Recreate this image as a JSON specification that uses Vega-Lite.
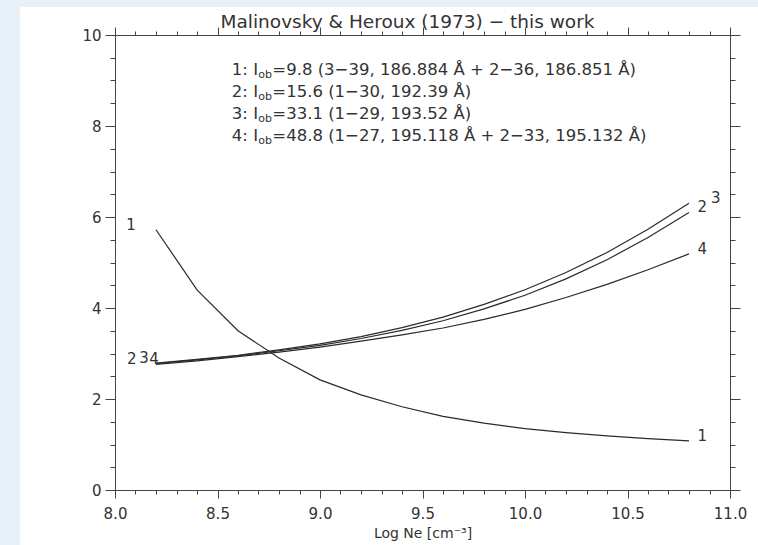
{
  "$schema": "https://vega.github.io/schema/vega-lite/v6.json",
  "width": 615,
  "height": 455,
  "padding": {"left": 20, "top": 7, "right": 0, "bottom": 0},
  "background": "#e8f1f8",
  "config": {
    "view": {"stroke": null},
    "axis": {
      "zindex": 1,
      "grid": false,
      "domainColor": "#444",
      "tickColor": "#444",
      "domainWidth": 1,
      "tickWidth": 1,
      "labelColor": "#333",
      "labelFont": "DejaVu Sans",
      "labelFontSize": 15,
      "labelOverlap": false,
      "labelFlush": false,
      "labelBound": false,
      "titleFont": "DejaVu Sans",
      "titleColor": "#333",
      "titleFontWeight": "normal"
    }
  },
  "datasets": {
    "curves": [
      {"curve": "1", "logne": 8.2, "value": 5.72},
      {"curve": "1", "logne": 8.4, "value": 4.40},
      {"curve": "1", "logne": 8.6, "value": 3.50},
      {"curve": "1", "logne": 8.8, "value": 2.90},
      {"curve": "1", "logne": 9.0, "value": 2.42},
      {"curve": "1", "logne": 9.2, "value": 2.09},
      {"curve": "1", "logne": 9.4, "value": 1.83},
      {"curve": "1", "logne": 9.6, "value": 1.62},
      {"curve": "1", "logne": 9.8, "value": 1.47},
      {"curve": "1", "logne": 10.0, "value": 1.35},
      {"curve": "1", "logne": 10.2, "value": 1.26},
      {"curve": "1", "logne": 10.4, "value": 1.19},
      {"curve": "1", "logne": 10.6, "value": 1.13},
      {"curve": "1", "logne": 10.8, "value": 1.08},
      {"curve": "2", "logne": 8.2, "value": 2.78},
      {"curve": "2", "logne": 8.4, "value": 2.86},
      {"curve": "2", "logne": 8.6, "value": 2.95},
      {"curve": "2", "logne": 8.8, "value": 3.06},
      {"curve": "2", "logne": 9.0, "value": 3.18},
      {"curve": "2", "logne": 9.2, "value": 3.33},
      {"curve": "2", "logne": 9.4, "value": 3.51},
      {"curve": "2", "logne": 9.6, "value": 3.72},
      {"curve": "2", "logne": 9.8, "value": 3.98},
      {"curve": "2", "logne": 10.0, "value": 4.28},
      {"curve": "2", "logne": 10.2, "value": 4.64},
      {"curve": "2", "logne": 10.4, "value": 5.06},
      {"curve": "2", "logne": 10.6, "value": 5.55},
      {"curve": "2", "logne": 10.8, "value": 6.10},
      {"curve": "3", "logne": 8.2, "value": 2.79},
      {"curve": "3", "logne": 8.4, "value": 2.87},
      {"curve": "3", "logne": 8.6, "value": 2.96},
      {"curve": "3", "logne": 8.8, "value": 3.08},
      {"curve": "3", "logne": 9.0, "value": 3.21},
      {"curve": "3", "logne": 9.2, "value": 3.37},
      {"curve": "3", "logne": 9.4, "value": 3.57},
      {"curve": "3", "logne": 9.6, "value": 3.80},
      {"curve": "3", "logne": 9.8, "value": 4.08},
      {"curve": "3", "logne": 10.0, "value": 4.40},
      {"curve": "3", "logne": 10.2, "value": 4.78},
      {"curve": "3", "logne": 10.4, "value": 5.22},
      {"curve": "3", "logne": 10.6, "value": 5.73},
      {"curve": "3", "logne": 10.8, "value": 6.30},
      {"curve": "4", "logne": 8.2, "value": 2.76},
      {"curve": "4", "logne": 8.4, "value": 2.84},
      {"curve": "4", "logne": 8.6, "value": 2.93},
      {"curve": "4", "logne": 8.8, "value": 3.03},
      {"curve": "4", "logne": 9.0, "value": 3.14},
      {"curve": "4", "logne": 9.2, "value": 3.27},
      {"curve": "4", "logne": 9.4, "value": 3.41},
      {"curve": "4", "logne": 9.6, "value": 3.56},
      {"curve": "4", "logne": 9.8, "value": 3.75},
      {"curve": "4", "logne": 10.0, "value": 3.97},
      {"curve": "4", "logne": 10.2, "value": 4.23},
      {"curve": "4", "logne": 10.4, "value": 4.52},
      {"curve": "4", "logne": 10.6, "value": 4.84},
      {"curve": "4", "logne": 10.8, "value": 5.19}
    ],
    "labels": [
      {"label": "1", "logne": 8.078, "value": 5.82},
      {"label": "2", "logne": 8.082, "value": 2.88},
      {"label": "3", "logne": 8.142, "value": 2.90},
      {"label": "4", "logne": 8.19, "value": 2.88},
      {"label": "2", "logne": 10.865, "value": 6.22},
      {"label": "3", "logne": 10.93, "value": 6.42},
      {"label": "4", "logne": 10.865, "value": 5.30},
      {"label": "1", "logne": 10.865, "value": 1.19}
    ],
    "ann": [
      {"pre": "1: I", "post": "=9.8 (3−39, 186.884 Å + 2−36, 186.851 Å)", "logne": 8.57, "value": 9.23},
      {"pre": "2: I", "post": "=15.6 (1−30, 192.39 Å)", "logne": 8.57, "value": 8.75},
      {"pre": "3: I", "post": "=33.1 (1−29, 193.52 Å)", "logne": 8.57, "value": 8.27},
      {"pre": "4: I", "post": "=48.8 (1−27, 195.118 Å + 2−33, 195.132 Å)", "logne": 8.57, "value": 7.79}
    ]
  },
  "layer": [
    {
      "data": {"values": [{}]},
      "mark": {"type": "rect", "fill": "white", "stroke": null, "clip": false},
      "encoding": {
        "x": {
          "datum": 7.53659, "type": "quantitative",
          "scale": {"domain": [8, 11], "nice": false, "zero": false},
          "axis": {
            "orient": "top",
            "zindex": 2,
            "values": [8,8.1,8.2,8.3,8.4,8.5,8.6,8.7,8.8,8.9,9,9.1,9.2,9.3,9.4,9.5,9.6,9.7,9.8,9.9,10,10.1,10.2,10.3,10.4,10.5,10.6,10.7,10.8,10.9,11],
            "labels": false,
            "tickSize": {"condition": {"test": "abs(datum.value*2 - round(datum.value*2)) < 0.001", "value": 8}, "value": 4},
            "title": "Malinovsky & Heroux (1973) − this work",
            "titleFontSize": 18.5,
            "titlePadding": -5,
            "titleX": 292
          }
        },
        "x2": {"datum": 11.13659},
        "y": {
          "datum": 10.61538, "type": "quantitative",
          "scale": {"domain": [0, 10], "nice": false, "zero": false},
          "axis": {
            "orient": "right",
            "zindex": 2,
            "values": [0,0.5,1,1.5,2,2.5,3,3.5,4,4.5,5,5.5,6,6.5,7,7.5,8,8.5,9,9.5,10],
            "labels": false,
            "tickSize": {"condition": {"test": "abs(datum.value/2 - round(datum.value/2)) < 0.001", "value": 10}, "value": 5},
            "title": null
          }
        },
        "y2": {"datum": -1.20879}
      }
    },
    {
      "data": {"name": "curves"},
      "mark": {"type": "line", "color": "#2a2a2a", "strokeWidth": 1.2},
      "encoding": {
        "x": {
          "field": "logne", "type": "quantitative",
          "scale": {"domain": [8, 11], "nice": false, "zero": false},
          "axis": {
            "orient": "bottom",
            "zindex": 2,
            "values": [8,8.1,8.2,8.3,8.4,8.5,8.6,8.7,8.8,8.9,9,9.1,9.2,9.3,9.4,9.5,9.6,9.7,9.8,9.9,10,10.1,10.2,10.3,10.4,10.5,10.6,10.7,10.8,10.9,11],
            "labelExpr": "abs(datum.value*2 - round(datum.value*2)) < 0.001 ? format(datum.value, '.1f') : ''",
            "tickSize": {"condition": {"test": "abs(datum.value*2 - round(datum.value*2)) < 0.001", "value": 8}, "value": 4},
            "labelPadding": 8,
            "title": "Log Ne [cm⁻³]",
            "titleFontSize": 14,
            "titlePadding": 5
          }
        },
        "y": {
          "field": "value", "type": "quantitative",
          "scale": {"domain": [0, 10], "nice": false, "zero": false},
          "axis": {
            "orient": "left",
            "zindex": 2,
            "values": [0,0.5,1,1.5,2,2.5,3,3.5,4,4.5,5,5.5,6,6.5,7,7.5,8,8.5,9,9.5,10],
            "labelExpr": "abs(datum.value/2 - round(datum.value/2)) < 0.001 ? format(datum.value, 'd') : ''",
            "tickSize": {"condition": {"test": "abs(datum.value/2 - round(datum.value/2)) < 0.001", "value": 10}, "value": 5},
            "labelPadding": 4,
            "title": null
          }
        },
        "detail": {"field": "curve", "type": "nominal"}
      }
    },
    {
      "data": {"name": "labels"},
      "mark": {"type": "text", "font": "DejaVu Sans", "fontSize": 15, "color": "#333", "align": "center", "baseline": "middle"},
      "encoding": {
        "x": {"field": "logne", "type": "quantitative", "axis": null},
        "y": {"field": "value", "type": "quantitative", "axis": null},
        "text": {"field": "label"}
      }
    },
    {
      "data": {"name": "ann"},
      "mark": {"type": "text", "font": "DejaVu Sans", "fontSize": 16.5, "color": "#333", "align": "left", "baseline": "middle"},
      "encoding": {
        "x": {"field": "logne", "type": "quantitative", "axis": null},
        "y": {"field": "value", "type": "quantitative", "axis": null},
        "text": {"field": "pre"}
      }
    },
    {
      "data": {"name": "ann"},
      "mark": {"type": "text", "font": "DejaVu Sans", "fontSize": 11, "color": "#333", "align": "left", "baseline": "middle", "dx": 26.5, "dy": 5},
      "encoding": {
        "x": {"field": "logne", "type": "quantitative", "axis": null},
        "y": {"field": "value", "type": "quantitative", "axis": null},
        "text": {"value": "ob"}
      }
    },
    {
      "data": {"name": "ann"},
      "mark": {"type": "text", "font": "DejaVu Sans", "fontSize": 16.5, "color": "#333", "align": "left", "baseline": "middle", "dx": 40.5},
      "encoding": {
        "x": {"field": "logne", "type": "quantitative", "axis": null},
        "y": {"field": "value", "type": "quantitative", "axis": null},
        "text": {"field": "post"}
      }
    }
  ],
  "resolve": {"axis": {"x": "independent", "y": "independent"}}
}
